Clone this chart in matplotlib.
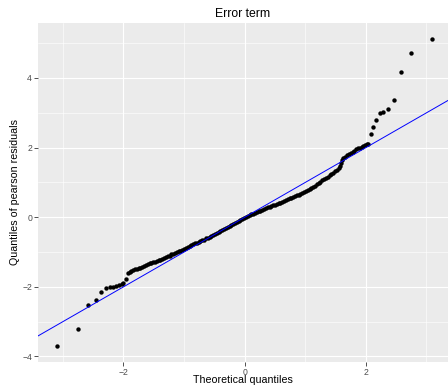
import matplotlib
matplotlib.use("Agg")
import matplotlib.pyplot as plt
from matplotlib.ticker import MultipleLocator

plt.rcParams['font.family'] = ['Liberation Sans', 'DejaVu Sans']

# Theoretical quantiles (x) and sample quantiles of pearson residuals (y)
theoretical = [
    -3.09, -2.75, -2.58, -2.46, -2.37, -2.29, -2.23, -2.17, -2.12, -2.08, -2.03, -2.00, -1.96, -1.93, -1.90,
    -1.87, -1.84, -1.81, -1.78, -1.75, -1.72, -1.69, -1.66, -1.63, -1.60, -1.57, -1.54, -1.51, -1.48, -1.45,
    -1.42, -1.39, -1.36, -1.33, -1.30, -1.27, -1.24, -1.21, -1.18, -1.15, -1.12, -1.09, -1.06, -1.03, -1.00,
    -0.97, -0.94, -0.91, -0.88, -0.85, -0.82, -0.79, -0.76, -0.73, -0.70, -0.67, -0.64, -0.61, -0.58, -0.55,
    -0.52, -0.49, -0.46, -0.43, -0.40, -0.37, -0.34, -0.31, -0.28, -0.25, -0.22, -0.19, -0.16, -0.13, -0.10,
    -0.07, -0.04, -0.01, 0.02, 0.05, 0.08, 0.11, 0.14, 0.17, 0.20, 0.23, 0.26, 0.29, 0.32, 0.35,
    0.38, 0.41, 0.44, 0.47, 0.50, 0.53, 0.56, 0.59, 0.62, 0.65, 0.68, 0.71, 0.74, 0.77, 0.80,
    0.83, 0.86, 0.89, 0.92, 0.95, 0.98, 1.01, 1.04, 1.07, 1.10, 1.13, 1.16, 1.19, 1.22, 1.25,
    1.28, 1.31, 1.34, 1.37, 1.40, 1.43, 1.46, 1.49, 1.52, 1.55, 1.57, 1.59, 1.61, 1.63, 1.66,
    1.69, 1.72, 1.75, 1.78, 1.81, 1.84, 1.87, 1.90, 1.93, 1.96, 1.99, 2.02, 2.04,
    2.08, 2.12, 2.17, 2.23, 2.29, 2.37, 2.46, 2.58, 2.75, 3.09,
]
sample = [
    -3.69, -3.20, -2.52, -2.38, -2.16, -2.02, -2.00, -1.99, -1.98, -1.95, -1.92, -1.88, -1.77, -1.61, -1.57,
    -1.54, -1.52, -1.50, -1.49, -1.47, -1.45, -1.43, -1.40, -1.37, -1.34, -1.32, -1.31, -1.29, -1.28, -1.26,
    -1.24, -1.22, -1.20, -1.17, -1.15, -1.12, -1.10, -1.07, -1.05, -1.03, -1.01, -0.98, -0.96, -0.94, -0.91,
    -0.88, -0.85, -0.82, -0.80, -0.77, -0.75, -0.73, -0.71, -0.68, -0.66, -0.64, -0.61, -0.59, -0.56, -0.54,
    -0.51, -0.49, -0.46, -0.43, -0.40, -0.37, -0.34, -0.31, -0.28, -0.25, -0.22, -0.19, -0.16, -0.13, -0.10,
    -0.07, -0.04, -0.01, 0.02, 0.04, 0.06, 0.08, 0.10, 0.13, 0.15, 0.17, 0.19, 0.22, 0.24, 0.26,
    0.28, 0.30, 0.32, 0.34, 0.36, 0.38, 0.40, 0.42, 0.45, 0.47, 0.49, 0.52, 0.54, 0.56, 0.59,
    0.61, 0.63, 0.65, 0.67, 0.70, 0.72, 0.75, 0.78, 0.81, 0.84, 0.88, 0.91, 0.95, 0.99, 1.02,
    1.06, 1.09, 1.13, 1.17, 1.21, 1.24, 1.28, 1.32, 1.36, 1.41, 1.48, 1.55, 1.63, 1.70, 1.74,
    1.78, 1.82, 1.85, 1.88, 1.91, 1.95, 1.98, 2.00, 2.03, 2.05, 2.08, 2.10, 2.11,
    2.38, 2.59, 2.80, 3.00, 3.02, 3.10, 3.38, 4.17, 4.73, 5.12,
]

# Reference line (qqline)
line_intercept = 0.0
line_slope = 1.0

x_ticks = [-2, 0, 2]
y_ticks = [-4, -2, 0, 2, 4]

W, H = 448, 385
fig = plt.figure(figsize=(W / 100, H / 100), dpi=100)
ax = fig.add_axes([38 / W, (H - 361.7) / H, (W - 38) / W, (361.7 - 23) / H])
ax.set_facecolor('#EBEBEB')
for s in ax.spines.values():
    s.set_visible(False)

ax.set_xlim(-3.41, 3.355)
ax.set_ylim(-4.15, 5.58)
ax.set_xticks(x_ticks)
ax.set_yticks(y_ticks)
ax.xaxis.set_minor_locator(MultipleLocator(1))
ax.yaxis.set_minor_locator(MultipleLocator(1))
ax.grid(which='major', color='white', linewidth=0.8)
ax.grid(which='minor', color='white', linewidth=0.4)
ax.set_axisbelow(True)
ax.tick_params(which='minor', length=0)
ax.tick_params(which='major', length=2.7, width=0.6, color='#333333',
               labelcolor='#4D4D4D', labelsize=6.2, pad=1.5)

ax.scatter(theoretical, sample, s=10, color='black', linewidths=0, zorder=3)
ax.axline((0, line_intercept), slope=line_slope, color='blue', linewidth=0.7, zorder=4)

ax.set_title('Error term', fontsize=8.8, color='black', pad=4)
ax.set_xlabel('Theoretical quantiles', fontsize=7.7, labelpad=-1.0)
ax.set_ylabel('Quantiles of pearson residuals', fontsize=7.7, labelpad=1.5)

fig.savefig('out.png', dpi=100)
